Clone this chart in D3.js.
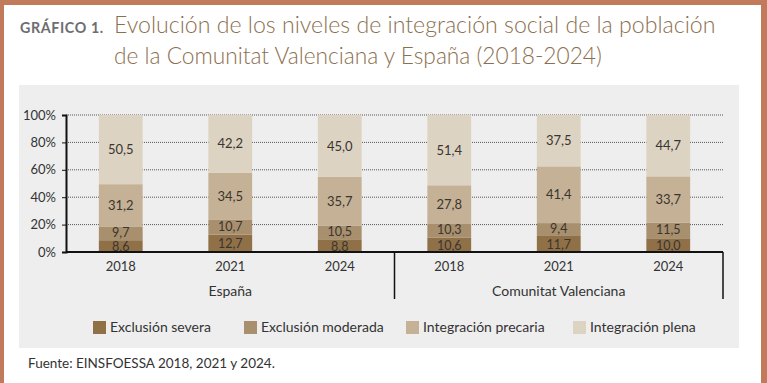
<!DOCTYPE html>
<html><head><meta charset="utf-8">
<script src="https://cdn.jsdelivr.net/npm/d3@7"></script>
<style>body{margin:0;background:#fff}svg{display:block}</style>
</head><body>
<script>
const groups = ["España", "Comunitat Valenciana"];
const years = ["2018", "2021", "2024"];
const seriesNames = ["Exclusión severa", "Exclusión moderada", "Integración precaria", "Integración plena"];
const severa   = [8.6, 12.7, 8.8, 10.6, 11.7, 10.0];
const moderada = [9.7, 10.7, 10.5, 10.3, 9.4, 11.5];
const precaria = [31.2, 34.5, 35.7, 27.8, 41.4, 33.7];
const plena    = [50.5, 42.2, 45.0, 51.4, 37.5, 44.7];
const yTicks = [0, 20, 40, 60, 80, 100];
const colors = ["#8f7047", "#a88f6d", "#c5b195", "#ddd3c2"];

const W = 767, H = 383;
const svg = d3.select("body").append("svg").attr("width", W).attr("height", H);
const font = "Lato, 'Open Sans', sans-serif";

// frame
svg.append("rect").attr("x",0).attr("y",0).attr("width",W).attr("height",H).attr("fill","#c27b5a");
svg.append("rect").attr("x",4).attr("y",5).attr("width",W-10).attr("height",H-5).attr("fill","#fff");
svg.append("rect").attr("x",19).attr("y",85).attr("width",720).attr("height",263).attr("fill","#eeeeee");

// title
const g1 = svg.append("text").attr("x",20).attr("y",33).attr("font-family",font).attr("font-weight",700)
  .attr("font-size",14).attr("fill","#6d6d70").attr("letter-spacing",0.6).text("GRÁFICO 1.");
const t1 = svg.append("text").attr("x",114).attr("y",33).attr("font-family",font).attr("font-weight",300)
  .attr("font-size",23).attr("fill","#8b7050").text("Evolución de los niveles de integración social de la población");
const t2 = svg.append("text").attr("x",114).attr("y",64).attr("font-family",font).attr("font-weight",300)
  .attr("font-size",23).attr("fill","#8b7050").text("de la Comunitat Valenciana y España (2018-2024)");
[[t1,602,23],[t2,488,23],[g1,84,14]].forEach(([t,w,fs])=>{const l=t.node().getComputedTextLength(); t.attr("font-size",fs*w/l);});

// data rows
const cats = [];
groups.forEach((g,gi)=>years.forEach((y,yi)=>cats.push({key:g+"|"+y, group:g, year:y})));
const rows = cats.map((c,i)=>({key:c.key, year:c.year, group:c.group,
  [seriesNames[0]]:severa[i],[seriesNames[1]]:moderada[i],[seriesNames[2]]:precaria[i],[seriesNames[3]]:plena[i]}));
const stack = d3.stack().keys(seriesNames)(rows);

const x = d3.scaleBand().domain(cats.map(c=>c.key)).range([66,723]).paddingInner(0.6).paddingOuter(0.3);
const y = d3.scaleLinear().domain([0,100]).range([252,115]);

// gridlines
svg.append("g").selectAll("line").data(yTicks.filter(d=>d>0)).join("line")
  .attr("x1",66).attr("x2",723).attr("y1",d=>y(d)).attr("y2",d=>y(d))
  .attr("stroke","#555").attr("stroke-width",1).attr("stroke-dasharray","1,1");

// bars
const layer = svg.append("g").selectAll("g").data(stack).join("g").attr("fill",(d,i)=>colors[i]);
layer.selectAll("rect").data(d=>d).join("rect")
  .attr("x",d=>x(d.data.key)).attr("width",x.bandwidth())
  .attr("y",d=>y(d[1])).attr("height",d=>y(d[0])-y(d[1]));

// labels
const fmt = v => v.toFixed(1).replace(".", ",");
const labelY = (si, d, i) => {
  const c = (y(d[0])+y(d[1]))/2;
  if (si === 0) return c + 0.5;
  if (si === 1) { const c0 = (y(stack[0][i][0])+y(stack[0][i][1]))/2 + 0.5; return Math.min(c - 1, c0 - 13); }
  return c;
};
stack.forEach((s,si)=>{
  svg.append("g").selectAll("text").data(s).join("text")
    .attr("x",d=>x(d.data.key)+x.bandwidth()/2)
    .attr("y",(d,i)=>labelY(si,d,i))
    .attr("dy", "0.36em")
    .attr("text-anchor","middle").attr("font-family",font).attr("font-size", si<2 ? 12.5 : 13)
    .attr("fill","#3a3530").text(d=>fmt(d[1]-d[0]));
});

// y axis
const yAxis = svg.append("g").attr("transform","translate(66,0)")
  .call(d3.axisLeft(y).tickValues(yTicks).tickFormat(d=>d+"%").tickSize(4).tickPadding(6));
yAxis.select(".domain").attr("stroke","#111").attr("stroke-width",2);
yAxis.selectAll(".tick line").attr("stroke","#111");
yAxis.selectAll("text").attr("font-family",font).attr("font-size",13).attr("fill","#333");

// x axis (years)
const xAxis = svg.append("g").attr("transform","translate(0,252)")
  .call(d3.axisBottom(x).tickSize(0).tickPadding(10).tickFormat(k=>k.split("|")[1]));
xAxis.select(".domain").attr("stroke","#111").attr("stroke-width",2).attr("d","M66,0H723");
xAxis.selectAll("text").attr("font-family",font).attr("font-size",13).attr("fill","#333");

// group separators
const step = x.step();
const sepX = [x(cats[3].key) - x.paddingInner()*step/2, 723];
svg.append("g").selectAll("line").data(sepX).join("line")
  .attr("x1",d=>d).attr("x2",d=>d).attr("y1",252).attr("y2",299)
  .attr("stroke","#111").attr("stroke-width",1.5);

// group labels
groups.forEach((g,gi)=>{
  const a = x(cats[gi*3].key), b = x(cats[gi*3+2].key)+x.bandwidth();
  svg.append("text").attr("x",(a+b)/2).attr("y",296).attr("text-anchor","middle")
    .attr("font-family",font).attr("font-size",14).attr("fill","#333").text(g);
});

// legend
const legX = [93, 244, 406, 573];
const leg = svg.append("g").selectAll("g").data(seriesNames).join("g")
  .attr("transform",(d,i)=>`translate(${legX[i]},321)`);
leg.append("rect").attr("width",13).attr("height",13).attr("fill",(d,i)=>colors[i]);
leg.append("text").attr("x",17).attr("y",11).attr("font-family",font).attr("font-size",14)
  .attr("fill","#333").text(d=>d);

// source
svg.append("text").attr("x",28).attr("y",368).attr("font-family",font).attr("font-size",13.5)
  .attr("fill","#333").text("Fuente: EINSFOESSA 2018, 2021 y 2024.");
</script>
</body></html>
